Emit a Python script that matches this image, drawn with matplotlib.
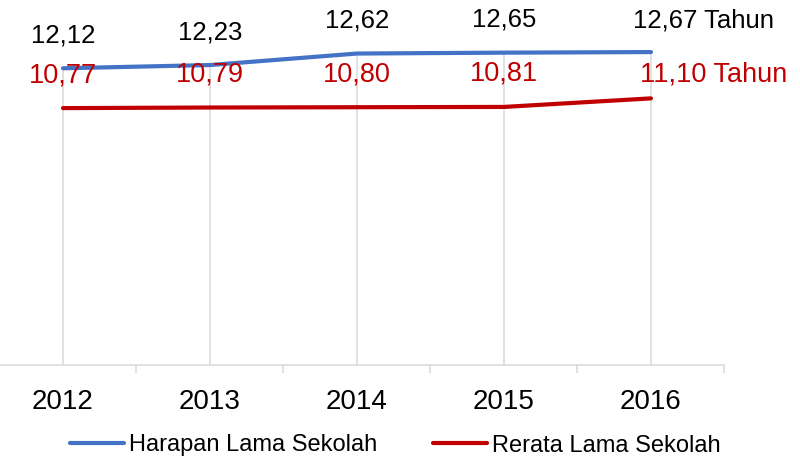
import matplotlib
matplotlib.use("Agg")
import matplotlib.pyplot as plt

years = ["2012", "2013", "2014", "2015", "2016"]
harapan = [12.12, 12.23, 12.62, 12.65, 12.67]
rerata = [10.77, 10.79, 10.80, 10.81, 11.10]

plt.rcParams['font.family'] = ['Liberation Sans', 'DejaVu Sans']

fig = plt.figure(figsize=(8, 4.57), dpi=100)
ax = fig.add_axes([-10.5 / 800, 92 / 457, 735 / 800, 315 / 457])

x = list(range(len(years)))
ymin, ymax = 2.06, 12.74

# drop lines from the upper series down to the axis
ax.vlines(x, ymin, harapan, color="#D9D9D9", lw=1.1, zorder=1)

ax.plot(x, harapan, color="#4472C4", lw=3, solid_capstyle="round",
        label="Harapan Lama Sekolah", zorder=3)
ax.plot(x, rerata, color="#C00000", lw=3, solid_capstyle="round",
        label="Rerata Lama Sekolah", zorder=3)

def fmt(v):
    return f"{v:.2f}".replace(".", ",")

for i, v in enumerate(harapan):
    if i == len(harapan) - 1:
        ax.annotate(fmt(v) + " Tahun", (i, v), xytext=(-18, 32), textcoords="offset pixels",
                    ha="left", va="center", fontsize=18.5, color="black")
    else:
        ax.annotate(fmt(v), (i, v), xytext=(0, 33), textcoords="offset pixels",
                    ha="center", va="center", fontsize=18.5, color="black")

for i, v in enumerate(rerata):
    if i == len(rerata) - 1:
        ax.annotate(fmt(v) + " Tahun", (i, v), xytext=(-11, 24), textcoords="offset pixels",
                    ha="left", va="center", fontsize=19.5, color="#C00000")
    else:
        ax.annotate(fmt(v), (i, v), xytext=(0, 33), textcoords="offset pixels",
                    ha="center", va="center", fontsize=19.5, color="#C00000")

ax.set_xlim(-0.5, len(years) - 0.5)
ax.set_ylim(ymin, ymax)
ax.set_yticks([])
ax.set_xticks(x)
ax.set_xticklabels(years, fontsize=20)
ax.set_xticks([i + 0.5 for i in range(-1, len(years))], minor=True)
ax.tick_params(axis="x", which="major", length=0, pad=17)
ax.tick_params(axis="x", which="minor", length=6, width=1.1, color="#D9D9D9")
for s in ["left", "top", "right"]:
    ax.spines[s].set_visible(False)
ax.spines["bottom"].set_color("#D9D9D9")
ax.spines["bottom"].set_linewidth(1.1)
ax.patch.set_visible(False)

fig.legend(loc="center", bbox_to_anchor=(0.494, 11.5 / 457), ncol=2, frameon=False,
           fontsize=17, handlelength=2.3, handletextpad=0.2, columnspacing=2.35)

fig.savefig("out.png", dpi=100)
